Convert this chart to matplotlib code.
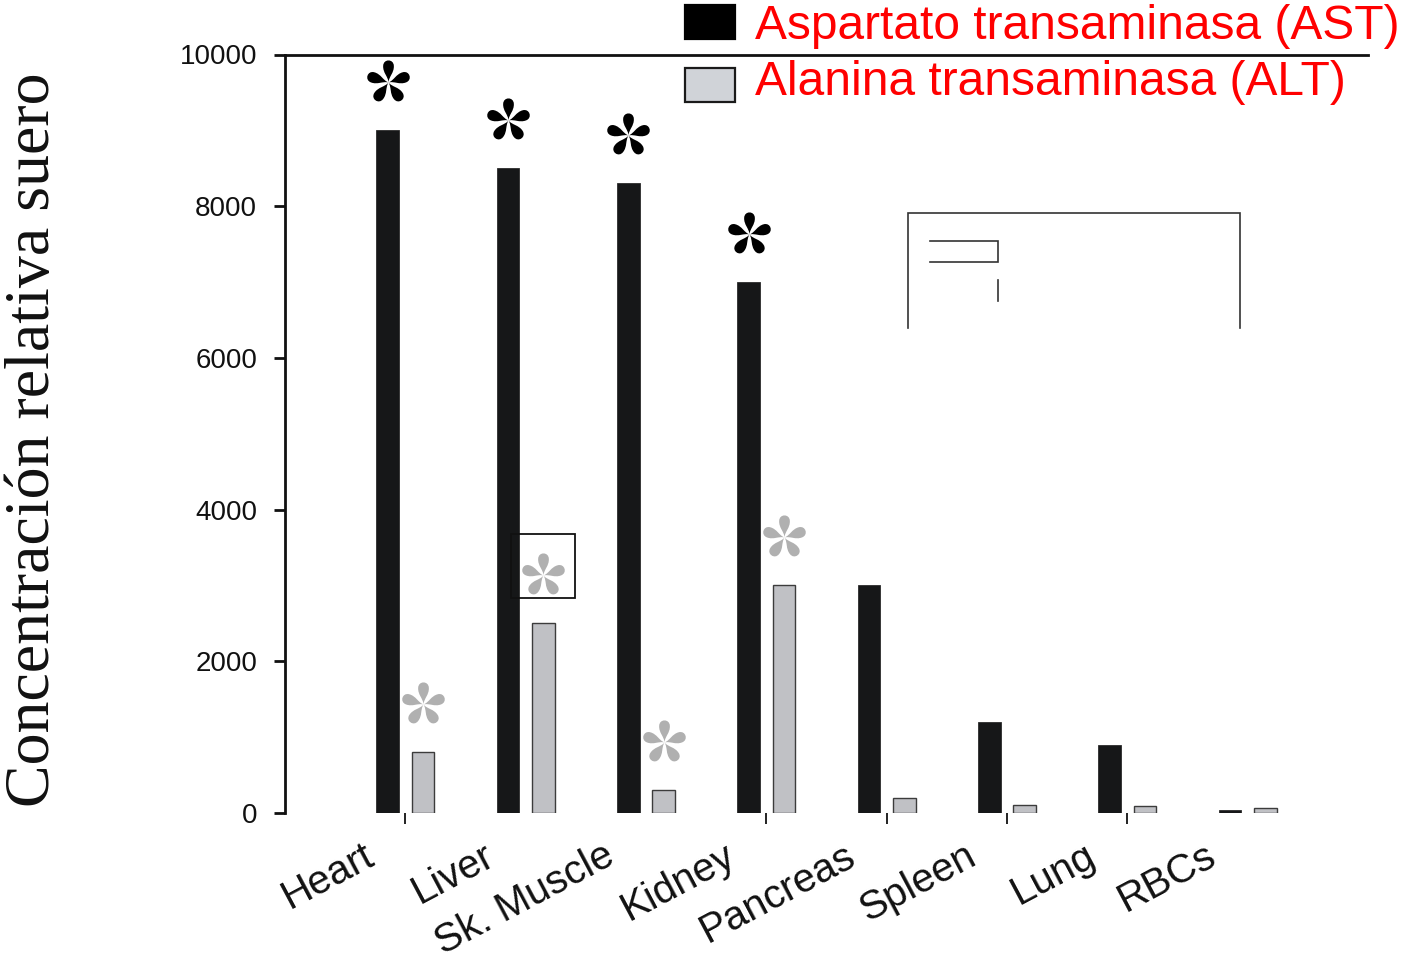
import numpy as np
import matplotlib
matplotlib.use("Agg")
import matplotlib.pyplot as plt
from matplotlib.path import Path
from matplotlib.patches import Rectangle
from matplotlib.lines import Line2D
from matplotlib.transforms import ScaledTranslation

plt.rcParams['font.family'] = ['Liberation Sans', 'DejaVu Sans']

# Serum enzyme levels by tissue of origin
tissues = ["Heart", "Liver", "Sk. Muscle", "Kidney", "Pancreas", "Spleen", "Lung", "RBCs"]
ast_values = [9000, 8500, 8300, 7000, 3000, 1200, 900, 40]
alt_values = [800, 2500, 300, 3000, 200, 100, 90, 60]
ast_significant = [True, True, True, True, False, False, False, False]
alt_significant = [True, True, True, True, False, False, False, False]
series_names = ["Aspartato transaminasa (AST)", "Alanina transaminasa (ALT)"]
y_ticks = [0, 2000, 4000, 6000, 8000, 10000]
ticked_tissues = ["Heart", "Kidney", "Pancreas", "Spleen", "Lung"]
y_label = "Concentración relativa suero"

W, H, DPI = 1408, 966, 100
fig = plt.figure(figsize=(W / DPI, H / DPI), dpi=DPI)
ax = fig.add_axes([285 / W, 1 - 813 / H, 1083 / W, 758.5 / H])


def fpx(px, py):
    """Figure pixel position (from top-left) to figure fraction."""
    return px / W, 1 - py / H


ast_color = "#161718"
alt_color = "#c0c1c5"
star_gray = "#b0b0b0"

x = np.arange(len(tissues))
bar_w = 0.19
shift = 0.147
ax.bar(x - shift, ast_values, bar_w, color=ast_color, edgecolor="#2b2b2b", linewidth=0.6)
ax.bar(x + shift, alt_values, bar_w, color=alt_color, edgecolor="#3c3c3c", linewidth=1.0)


# five-petal asterisk marker with slim teardrop petals
def asterisk_path(n=5):
    petal = np.array([(0, 0), (-0.01, 0.25), (-0.25, 0.42), (-0.23, 0.72),
                      (-0.22, 1.03), (0.22, 1.03), (0.23, 0.72),
                      (0.25, 0.42), (0.01, 0.25), (0, 0), (0, 0)])
    pcodes = [Path.MOVETO] + [Path.CURVE4] * 9 + [Path.CLOSEPOLY]
    verts, codes = [], []
    for k in range(n):
        a = 2 * np.pi * k / n
        rot = np.array([[np.cos(a), -np.sin(a)], [np.sin(a), np.cos(a)]])
        verts.append(petal @ rot.T)
        codes += pcodes
    verts = np.vstack(verts)
    verts /= np.abs(verts).max()
    return Path(verts, codes)


star = asterisk_path()
star_h = star.get_extents().height
star_ms = (41 * 72 / DPI) / (0.5 * star_h)
gap = 640

for i in range(len(tissues)):
    if ast_significant[i]:
        ax.plot(x[i] - shift, ast_values[i] + gap, marker=star, ms=star_ms,
                color="black", mew=0, ls="none", clip_on=False)
    if alt_significant[i]:
        ax.plot(x[i] + shift, alt_values[i] + gap, marker=star, ms=star_ms,
                color=star_gray, mew=0, ls="none", clip_on=False)

# frame around the liver ALT asterisk
ax.add_patch(Rectangle((x[1] + shift - 0.265, alt_values[1] + gap - 310), 0.53, 845,
                       fill=False, edgecolor="#111111", linewidth=1.3))

ax.set_xlim(-1, 8)
ax.set_ylim(0, 10000)
ax.spines['right'].set_visible(False)
ax.spines['bottom'].set_visible(False)
for s in ('left', 'top'):
    ax.spines[s].set_linewidth(2.0)
    ax.spines[s].set_color("#111111")

ax.set_yticks(y_ticks)
ax.set_yticklabels([str(v) for v in y_ticks])
ax.tick_params(axis='y', length=8, width=2.0, pad=12, labelsize=20,
               color="#111111", labelcolor="#111111")

ax.set_xticks(x)
ax.set_xticklabels(tissues, rotation=28, ha='right', va='top',
                   rotation_mode='anchor', fontsize=29, color="#111111")
ax.tick_params(axis='x', length=8, width=1.3, pad=9, color="#111111")
label_shift = ScaledTranslation(-43 / DPI, 0, fig.dpi_scale_trans)
for tick, name in zip(ax.xaxis.get_major_ticks(), tissues):
    tick.tick1line.set_visible(name in ticked_tissues)
    tick.label1.set_transform(tick.label1.get_transform() + label_shift)

fig.text(*fpx(34, 440), y_label, rotation=90, ha='center', va='center',
         fontsize=46, family=['Liberation Serif', 'DejaVu Serif'], color="#111111")

# legend
legend_fills = ["#000000", "#d0d3d8"]
legend_edges = ["#000000", "#1a1a1a"]
legend_tops = [5, 68]
legend_baselines = [39, 95]
for name, fc, ec, top, base in zip(series_names, legend_fills, legend_edges,
                                   legend_tops, legend_baselines):
    x0, y0 = fpx(685, top + 34)
    fig.add_artist(Rectangle((x0, y0), 50 / W, 34 / H, transform=fig.transFigure,
                             facecolor=fc, edgecolor=ec, linewidth=1.6))
    fig.text(*fpx(755, base), name, fontsize=34.5, color="#ff0000",
             ha='left', va='baseline')

# open frame at the upper right
frame_segments = [
    [(908, 328), (908, 213), (1240, 213), (1240, 328)],
    [(930, 241), (998, 241), (998, 262), (930, 262)],
    [(998, 280), (998, 301)],
]
for seg in frame_segments:
    pts = [fpx(px, py) for px, py in seg]
    fig.add_artist(Line2D([p[0] for p in pts], [p[1] for p in pts],
                          transform=fig.transFigure, color="#333333",
                          linewidth=1.2, solid_joinstyle='miter'))

fig.savefig("out.png", dpi=DPI)
